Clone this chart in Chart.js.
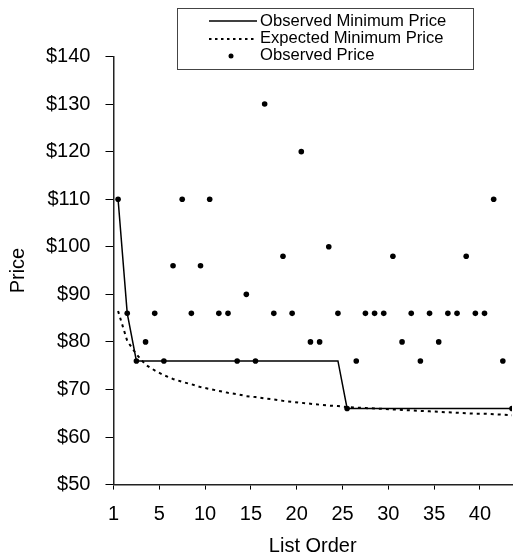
<!DOCTYPE html>
<html lang="en">
<head>
    <meta charset="UTF-8">
    <title>List Order vs Price</title>
    <script src="https://cdn.jsdelivr.net/npm/chart.js"></script>
    <style>
        body { margin: 0; background: #fff; }
        canvas { display: block; }
    </style>
</head>
<body>
    <canvas id="priceChart" width="516" height="557"></canvas>
    <script>
        // values, one per position in the list (1..44)
        const observedPrice = [110, 86, 76, 80, 86, 76, 96, 110, 86, 96,
                               110, 86, 86, 76, 90, 76, 130, 86, 98, 86,
                               120, 80, 80, 100, 86, 66, 76, 86, 86, 86,
                               98, 80, 86, 76, 86, 80, 86, 86, 98, 86,
                               86, 110, 76, 66];
        const observedMin = [110, 86, 76, 76, 76, 76, 76, 76, 76, 76,
                             76, 76, 76, 76, 76, 76, 76, 76, 76, 76,
                             76, 76, 76, 76, 76, 66, 66, 66, 66, 66,
                             66, 66, 66, 66, 66, 66, 66, 66, 66, 66,
                             66, 66, 66, 66];
        const expectedMin = [86.5, 80.2, 77.4, 75.2, 74.0, 73.0, 72.2, 71.6, 71.1, 70.5,
                             70.1, 69.7, 69.3, 69.0, 68.6, 68.4, 68.1, 67.9, 67.6, 67.4,
                             67.2, 67.0, 66.8, 66.6, 66.5, 66.3, 66.2, 66.1, 66.0, 65.9,
                             65.8, 65.7, 65.6, 65.5, 65.4, 65.3, 65.2, 65.1, 65.0, 64.9,
                             64.9, 64.8, 64.7, 64.6];
        const xTickValues = [0, 5, 10, 15, 20, 25, 30, 35, 40];
        const xTickLabels = ['1', '5', '10', '15', '20', '25', '30', '35', '40'];

        const FONT = 'Liberation Sans, Arial, sans-serif';

        // excel-style category axis: each list position sits in the middle of its slot
        function toPoints(values) {
            return values.map((v, i) => ({ x: i + 0.5, y: v }));
        }

        // boxed legend drawn over the top of the plot, like the original
        const boxLegend = {
            id: 'boxLegend',
            afterDraw(chart) {
                const ctx = chart.ctx;
                ctx.save();
                ctx.fillStyle = '#fff';
                ctx.fillRect(177, 8, 297, 61);
                ctx.strokeStyle = '#444';
                ctx.lineWidth = 1;
                ctx.strokeRect(177.5, 8.5, 296, 61);

                ctx.strokeStyle = '#000';
                ctx.lineWidth = 1.5;
                ctx.beginPath();
                ctx.moveTo(209, 21);
                ctx.lineTo(257, 21);
                ctx.stroke();

                ctx.lineWidth = 2;
                ctx.setLineDash([2.5, 3.5]);
                ctx.beginPath();
                ctx.moveTo(209, 39);
                ctx.lineTo(257, 39);
                ctx.stroke();
                ctx.setLineDash([]);

                ctx.fillStyle = '#000';
                ctx.beginPath();
                ctx.arc(231, 56, 2.5, 0, Math.PI * 2);
                ctx.fill();

                ctx.font = '16.6px ' + FONT;
                ctx.textBaseline = 'middle';
                ctx.fillText('Observed Minimum Price', 260, 21);
                ctx.fillText('Expected Minimum Price', 260, 38.5);
                ctx.fillText('Observed Price', 260, 55.5);
                ctx.restore();
            }
        };

        const ctx = document.getElementById('priceChart').getContext('2d');
        new Chart(ctx, {
            type: 'scatter',
            data: {
                datasets: [{
                    label: 'Observed Minimum Price',
                    data: toPoints(observedMin),
                    showLine: true,
                    borderColor: '#000',
                    borderWidth: 1.5,
                    pointRadius: 0,
                    tension: 0
                }, {
                    label: 'Expected Minimum Price',
                    data: toPoints(expectedMin),
                    showLine: true,
                    borderColor: '#000',
                    borderWidth: 2,
                    borderDash: [3, 4],
                    pointRadius: 0,
                    tension: 0
                }, {
                    label: 'Observed Price',
                    data: toPoints(observedPrice),
                    backgroundColor: '#000',
                    borderColor: '#000',
                    pointRadius: 2.8,
                    borderWidth: 0
                }]
            },
            options: {
                responsive: false,
                animation: false,
                layout: { padding: { top: 56.5, right: 0.5, left: 6, bottom: -1 } },
                plugins: {
                    legend: { display: false },
                    tooltip: { enabled: false }
                },
                scales: {
                    x: {
                        type: 'linear',
                        min: 0,
                        max: 43.5,
                        afterBuildTicks: axis => {
                            axis.ticks = xTickValues.map(v => ({ value: v }));
                        },
                        ticks: {
                            color: '#000',
                            font: { family: FONT, size: 20 },
                            padding: 12.7,
                            maxRotation: 0,
                            callback: (v) => xTickLabels[xTickValues.indexOf(v)]
                        },
                        grid: { drawOnChartArea: false, color: '#000', tickLength: 5 },
                        border: { color: '#222', width: 1.5 },
                        title: {
                            display: true,
                            text: 'List Order',
                            color: '#000',
                            font: { family: FONT, size: 20 },
                            padding: { top: -5, bottom: 0 }
                        }
                    },
                    y: {
                        min: 50,
                        max: 140,
                        ticks: {
                            stepSize: 10,
                            color: '#000',
                            font: { family: FONT, size: 20 },
                            padding: 15,
                            callback: v => '$' + v
                        },
                        grid: { drawOnChartArea: false, color: '#000', tickLength: 8 },
                        border: { color: '#222', width: 1.5 },
                        title: {
                            display: true,
                            text: 'Price',
                            color: '#000',
                            font: { family: FONT, size: 20 },
                            padding: { top: 0, bottom: 1 }
                        }
                    }
                }
            },
            plugins: [boxLegend]
        });
    </script>
</body>
</html>
